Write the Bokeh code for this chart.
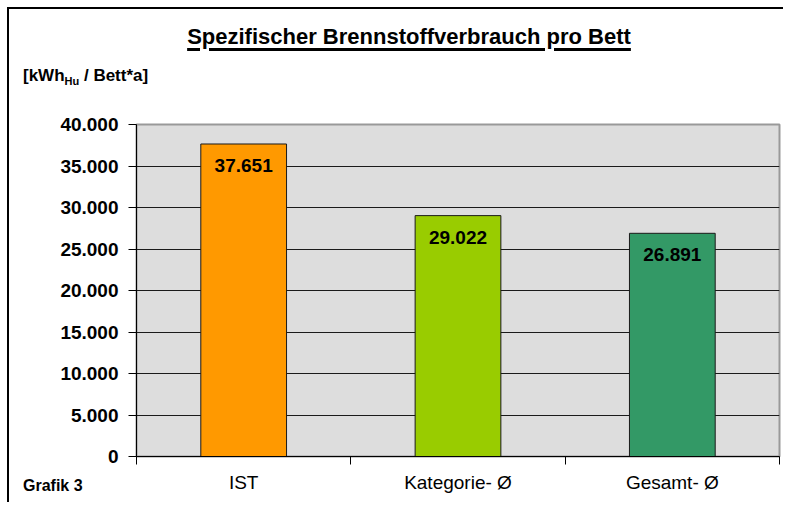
from bokeh.plotting import figure
from bokeh.layouts import column
from bokeh.models import (Range1d, FixedTicker, CustomJSTickFormatter, Div,
                          ColumnDataSource)
from bokeh.core.properties import value
from bokeh.embed import file_html
from bokeh.resources import INLINE

categories = ["IST", "Kategorie- Ø", "Gesamt- Ø"]
values = [37651, 29022, 26891]
colors = ["#FF9900", "#99CC00", "#339966"]
y_ticks = [0, 5000, 10000, 15000, 20000, 25000, 30000, 35000, 40000]
title_text = "Spezifischer Brennstoffverbrauch pro Bett"
unit_main = "[kWh"
unit_sub = "Hu"
unit_rest = " / Bett*a]"
footer_text = "Grafik 3"

FONT = "Liberation Sans"
OFF = 9          # left/top offset of the content inside the frame border
HEAD_H = 100     # header height
W = 783 - OFF

# ---------------- header (title + unit) ----------------
header_html = f"""
<div style="position:relative;width:{W}px;height:{HEAD_H}px;font-family:'{FONT}';color:black;">
  <div style="position:absolute;left:0px;top:17px;width:800px;text-align:center;
              font-size:22px;line-height:22px;font-weight:bold;white-space:nowrap;
              text-decoration:underline;text-decoration-thickness:3px;
              text-underline-offset:4px;">{title_text}</div>
  <div style="position:absolute;left:14px;top:58px;font-size:17px;line-height:17px;
              font-weight:bold;white-space:nowrap;">{unit_main}<span
       style="font-size:11px;vertical-align:-4px;">{unit_sub}</span>{unit_rest}</div>
</div>"""
header = Div(text=header_html, width=W, height=HEAD_H, margin=(0, 0, 0, 0))

# ---------------- main chart ----------------
xs = [i + 0.5 for i in range(len(categories))]
labels = [f"{v:,}".replace(",", ".") for v in values]
src = ColumnDataSource(dict(x=xs, top=values, color=colors, label=labels))

p = figure(frame_width=643, frame_height=332, output_backend="svg", toolbar_location=None,
           x_range=Range1d(0, len(categories)), y_range=Range1d(0, 40000),
           min_border_left=136 - OFF, min_border_right=4,
           min_border_top=124 - OFF - HEAD_H, min_border_bottom=45)

p.background_fill_color = "#DDDDDD"
p.border_fill_color = "white"
p.outline_line_color = "#999999"
p.outline_line_width = 2

p.vbar(x="x", top="top", width=0.4, fill_color="color", line_color="#1a1a1a",
       line_width=1, source=src)
p.text(x="x", y="top", text="label", source=src, text_align="center",
       text_baseline="top", y_offset=15, text_font=value(FONT),
       text_font_size="19px", text_font_style="bold", text_color="black")

p.xgrid.visible = False
p.ygrid.ticker = FixedTicker(ticks=y_ticks)
p.ygrid.grid_line_color = "#1a1a1a"
p.ygrid.grid_line_width = 1

ya = p.yaxis[0]
ya.ticker = FixedTicker(ticks=y_ticks)
ya.formatter = CustomJSTickFormatter(code="return tick.toFixed(0).replace(/\\B(?=(\\d{3})+(?!\\d))/g, '.');")
ya.axis_line_color = "black"
ya.major_tick_line_color = "black"
ya.major_tick_out = 8
ya.major_tick_in = 0
ya.minor_tick_line_color = None
ya.major_label_standoff = 10
ya.major_label_text_font = FONT
ya.major_label_text_font_size = "19px"
ya.major_label_text_font_style = "bold"
ya.major_label_text_color = "black"

xa = p.xaxis[0]
xa.ticker = FixedTicker(ticks=xs, minor_ticks=list(range(len(categories) + 1)))
xa.major_label_overrides = {x: c for x, c in zip(xs, categories)}
xa.axis_line_color = "black"
xa.major_tick_out = 0
xa.major_tick_in = 0
xa.minor_tick_line_color = "black"
xa.minor_tick_out = 8
xa.minor_tick_in = 0
xa.major_label_standoff = 7
xa.major_label_text_font = FONT
xa.major_label_text_font_size = "19px"
xa.major_label_text_color = "black"

# ---------------- footer label, overlapping the axis row ----------------
footer_html = f"""
<div style="position:relative;width:{W}px;height:1px;font-family:'{FONT}';color:black;">
  <div style="position:absolute;left:14px;top:-34px;font-size:16px;line-height:16px;
              font-weight:bold;white-space:nowrap;">{footer_text}</div>
</div>"""
footer = Div(text=footer_html, width=W, height=1, margin=(0, 0, 0, 0))

layout = column(header, p, footer, spacing=0)
layout.margin = (OFF - 2, 0, 0, OFF - 2)
layout.styles = {"border-left": "2px solid black", "border-top": "2px solid black"}

open("out.html", "w").write(file_html(layout, INLINE))
